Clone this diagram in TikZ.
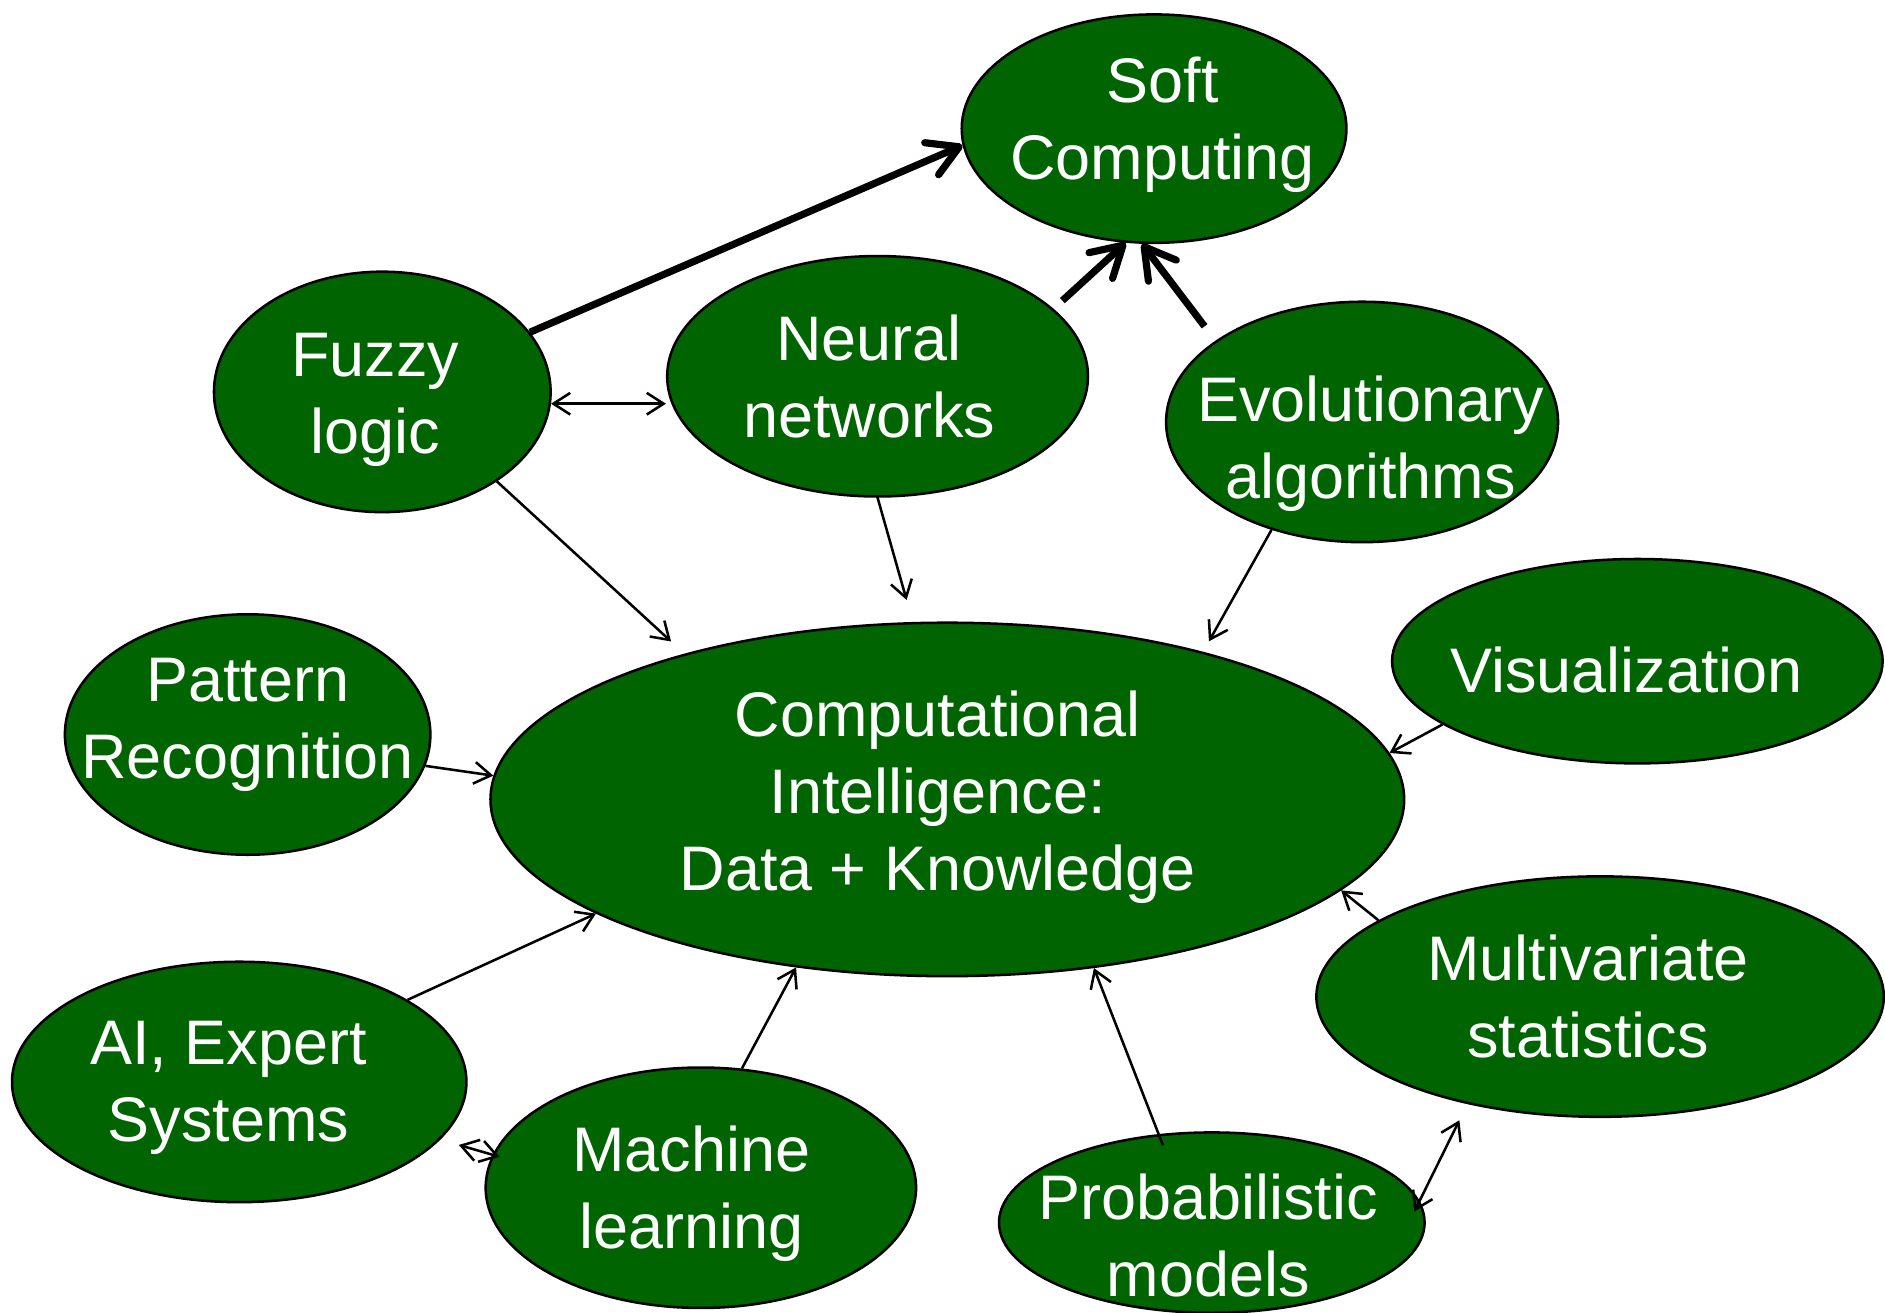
\documentclass[tikz,border=0pt]{standalone}
\usepackage{fontspec}
\setmainfont{Liberation Sans}
\usepackage{xcolor}
\usepackage{tikz}
\usetikzlibrary{shapes.geometric}
\usetikzlibrary{arrows.meta}

\definecolor{cigreen}{RGB}{0,100,0}

\begin{document}
\begin{tikzpicture}[
        blob/.style = {ellipse, draw = black, line width = 0.6pt, fill = cigreen, inner sep = 0pt},
        lbl/.style = {text = white, align = center, font = \fontsize{14.9}{18.2}\selectfont},
        bigarrow/.style = {line width = 1.7pt, -{Straight Barb[length = 2.5mm, width = 2.9mm, round]}},
        oneway/.style = {line width = 0.6pt, -{Straight Barb[length = 1.4mm, width = 1.8mm]}},
        twoway/.style = {line width = 0.6pt, {Straight Barb[length = 1.4mm, width = 1.8mm]}-{Straight Barb[length = 1.4mm, width = 1.8mm]}}
    ]
        \useasboundingbox (0, 0) rectangle (15.68, -10.92);

        \node[blob, minimum width = 3.20cm, minimum height = 1.90cm] (soft) at (9.60, -1.07) {};
        \node[blob, minimum width = 2.80cm, minimum height = 2.00cm] (fuzzy) at (3.18, -3.26) {};
        \node[blob, minimum width = 3.50cm, minimum height = 2.00cm] (neural) at (7.30, -3.13) {};
        \node[blob, minimum width = 3.26cm, minimum height = 2.00cm] (evo) at (11.33, -3.51) {};
        \node[blob, minimum width = 4.08cm, minimum height = 1.70cm] (vis) at (13.62, -5.50) {};
        \node[blob, minimum width = 3.04cm, minimum height = 2.00cm] (pat) at (2.06, -6.11) {};
        \node[blob, minimum width = 7.60cm, minimum height = 2.94cm] (ci) at (7.88, -6.65) {};
        \node[blob, minimum width = 3.78cm, minimum height = 2.00cm] (ai) at (1.99, -9.00) {};
        \node[blob, minimum width = 3.58cm, minimum height = 2.00cm] (ml) at (5.83, -9.88) {};
        \node[blob, minimum width = 4.72cm, minimum height = 2.00cm] (multi) at (13.31, -8.29) {};
        \node[blob, minimum width = 3.54cm, minimum height = 1.50cm] (prob) at (10.08, -10.17) {};

        \node[lbl] (soft-t) at (9.67, -1.04) {Soft\\Computing};
        \node[lbl] (fuzzy-t) at (3.12, -3.33) {Fuzzy\\logic};
        \node[lbl] (neural-t) at (7.23, -3.13) {Neural\\networks};
        \node[lbl] (evo-t) at (11.40, -3.69) {Evolutionary\\algorithms};
        \node[lbl] (vis-t) at (13.53, -5.57) {Visualization};
        \node[lbl] (pat-t) at (2.06, -6.03) {Pattern\\Recognition};
        \node[lbl] (ci-t) at (7.80, -6.63) {Computational\\Intelligence:\\Data + Knowledge};
        \node[lbl] (ai-t) at (1.90, -9.05) {AI, Expert\\Systems};
        \node[lbl] (ml-t) at (5.75, -9.93) {Machine\\learning};
        \node[lbl] (multi-t) at (13.21, -8.29) {Multivariate\\statistics};
        \node[lbl] (prob-t) at (10.05, -10.28) {Probabilistic\\models};

        % into soft computing
        \draw[bigarrow] (fuzzy.22) -- (soft.185);
        \draw[bigarrow, shorten <= 1mm] (neural.21) -- (soft.256);
        \draw[bigarrow, shorten <= 1.5mm] (evo.151) -- (soft.264);

        % into computational intelligence
        \draw[twoway] (fuzzy.356) -- (fuzzy.356 -| neural.west);
        \draw[oneway, shorten >= 1.5mm] (fuzzy.322) -- (ci.151);
        \draw[oneway, shorten >= 1.9mm] (neural.270) -- (ci.101);
        \draw[oneway, shorten >= 1mm] (evo.230) -- (ci.30);
        \draw[oneway] (vis.198) -- (ci.6);
        \draw[oneway] (pat.350) -- (ci.177);
        \draw[oneway] (ai.26) -- (ci.198);
        \draw[oneway] (ml.71) -- (ci.228);
        \draw[oneway, shorten <= -1mm] (prob.121) -- (ci.311);
        \draw[oneway] (multi.161) -- (ci.347);
        \draw[twoway, shorten <= 1.6mm, shorten >= -0.6mm] (ai.344) -- (ml.171);
        \draw[twoway, shorten <= -1mm, shorten >= 1.5mm] (prob.6) -- (multi.219);
\end{tikzpicture}
\end{document}
